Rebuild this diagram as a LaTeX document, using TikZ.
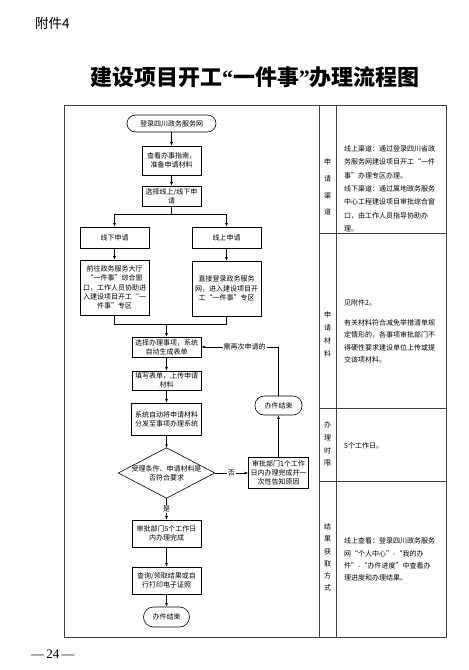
\documentclass[tikz,border=0pt]{standalone}
\usepackage{fontspec}
\setmainfont{Noto Sans CJK SC}
\newfontfamily\serifnum{Liberation Serif}
\usetikzlibrary{arrows.meta}
\begin{document}
\begin{tikzpicture}[x=1pt,y=-1pt,
  box/.style={draw, line width=0.6pt, inner sep=0pt, align=center, font=\fontsize{7}{9.2}\selectfont},
  term/.style={box, rounded corners=8pt},
  arr/.style={-{Latex[length=3.5pt,width=2.8pt]}, line width=0.6pt},
  ln/.style={line width=0.6pt},
  frame/.style={line width=0.8pt, draw=black!75},
  lbl/.style={inner sep=1pt, fill=white, font=\fontsize{7}{8}\selectfont},
  side/.style={align=center, inner sep=0pt},
  info/.style={align=left, anchor=west, inner sep=0pt},
]
\fill[white] (0,0) rectangle (469,670);
\useasboundingbox (0,0) rectangle (469,670);

% header
\node[anchor=west, inner sep=0pt, font=\fontsize{13.5}{14}\selectfont] (att) at (35,23) {附件4};
\node[inner sep=0pt, font=\fontsize{22}{22}\selectfont\bfseries] (title) at (255,77.5)
  {建设项目开工{\serifnum\bfseries“}一件事{\serifnum\bfseries”}办理流程图};
\node[anchor=west, inner sep=0pt, font=\serifnum\fontsize{13}{13}\selectfont] (page) at (31,654) {—\,24\,—};

% frame
\draw[frame] (64,105) rectangle (446,637);
\draw[frame] (319,105) -- (319,637);
\draw[frame] (336,105) -- (336,637);
\draw[frame] (319,233) -- (446,233);
\draw[frame] (319,408) -- (446,408);
\draw[frame] (319,481) -- (446,481);

% flowchart nodes
\node[term, minimum width=89pt, minimum height=17pt, rounded corners=8.5pt] (s1) at (171.5,123.5) {登录四川政务服务网};
\node[box, minimum width=59pt, minimum height=29pt] (b1) at (171.5,160.5) {查看办事指南，\\准备申请材料};
\node[box, minimum width=59pt, minimum height=20pt] (b2) at (171.5,196) {选择线上/线下申\\请};
\node[box, minimum width=69pt, minimum height=21pt] (b3) at (114.5,237.5) {线下申请};
\node[box, minimum width=69pt, minimum height=21pt] (b4) at (226.5,237.5) {线上申请};
\node[box, minimum width=69pt, minimum height=55pt] (b5) at (114.5,287.5) {前往政务服务大厅\\“一件事”综合窗\\口，工作人员协助进\\入建设项目开工“一\\件事”专区};
\node[box, minimum width=69pt, minimum height=55pt] (b6) at (226.5,288.5) {直接登录政务服务\\网，进入建设项目开\\工“一件事”专区};
\node[box, minimum width=69pt, minimum height=20pt] (b7) at (166.5,347) {选择办理事项，系统\\自动生成表单};
\node[box, minimum width=69pt, minimum height=19pt] (b8) at (166.5,380.5) {填写表单，上传申请\\材料};
\node[box, minimum width=70pt, minimum height=32pt] (b9) at (166.5,419) {系统自动将申请材料\\分发至事项办理系统};
\node[inner sep=0pt, minimum width=96pt, minimum height=50pt, align=center, font=\fontsize{7}{9.2}\selectfont] (d1) at (166.5,473) {受理条件、申请材料是\\否符合要求};
\draw[ln] (d1.north) -- (d1.east) -- (d1.south) -- (d1.west) -- cycle;
\node[box, minimum width=60pt, minimum height=31pt] (b10) at (278.5,473) {审批部门1个工作\\日内办理完成并一\\次性告知原因};
\node[term, minimum width=47pt, minimum height=19pt, rounded corners=9pt] (t2) at (278.5,405.5) {办件结束};
\node[box, minimum width=69pt, minimum height=27pt] (b11) at (166.5,533.5) {审批部门5个工作日\\内办理完成};
\node[box, minimum width=69pt, minimum height=27pt] (b12) at (166.5,580.5) {查询/领取结果或自\\行打印电子证照};
\node[term, minimum width=46pt, minimum height=20pt, rounded corners=10pt] (t3) at (166.5,617) {办件结束};

% connectors
\coordinate (sp) at (171.5,214);
\coordinate (mg) at (166.5,324);
\draw[arr] (s1.south) -- (b1.north);
\draw[arr] (b1.south) -- (b2.north);
\draw[ln] (b2.south) -- (sp);
\draw[arr] (sp) -| (b3.north);
\draw[arr] (sp) -| (b4.north);
\draw[arr] (b3.south) -- (b5.north);
\draw[arr] (b4.south) -- (b6.north);
\draw[ln] (b5.south) |- (mg);
\draw[ln] (b6.south) |- (mg);
\draw[arr] (mg) -- (b7.north);
\draw[arr] (b7.south) -- (b8.north);
\draw[arr] (b8.south) -- (b9.north);
\draw[arr] (b9.south) -- (d1.north);
\draw[arr] (d1.east) -- node[lbl] {否} (b10.west);
\draw[arr] (b10.north) -- (t2.south);
\draw[arr] (t2.north) |- node[lbl, pos=0.72] {需再次申请的} (b7.east);
\draw[arr] (d1.south) -- node[lbl] {是} (b11.north);
\draw[arr] (b11.south) -- (b12.north);
\draw[arr] (b12.south) -- (t3.north);

% right column labels
\node[side, font=\fontsize{7}{16.7}\selectfont] (l1) at (327.5,187) {申\\请\\渠\\道};
\node[side, font=\fontsize{7}{13}\selectfont] (l2) at (327.5,334.5) {申\\请\\材\\料};
\node[side, font=\fontsize{7}{12.7}\selectfont] (l3) at (327.5,444) {办\\理\\时\\限};
\node[side, font=\fontsize{7}{12.2}\selectfont] (l4) at (327.5,557.5) {结\\果\\获\\取\\方\\式};

% right column texts
\node[info, font=\fontsize{7}{13.3}\selectfont] (i1) at (344,188.8) {线上渠道：通过登录四川省政\\务服务网建设项目开工“一件\\事”办理专区办理。\\线下渠道：通过属地政务服务\\中心工程建设项目审批综合窗\\口，由工作人员指导协助办\\理。};
\node[info, font=\fontsize{7}{12.3}\selectfont] (i2a) at (344,302.7) {见附件2。};
\node[info, font=\fontsize{7}{12.3}\selectfont] (i2) at (344,341.2) {有关材料符合减免举措清单规\\定情形的，各事项审批部门不\\得硬性要求建设单位上传或提\\交该项材料。};
\node[info, font=\fontsize{7}{12.3}\selectfont] (i3) at (344,446) {5个工作日。};
\node[info, font=\fontsize{7}{12.3}\selectfont] (i4) at (344,559.5) {线上查看：登录四川政务服务\\网“个人中心”-“我的办\\件”-“办件进度”中查看办\\理进度和办理结果。};
\end{tikzpicture}
\end{document}
